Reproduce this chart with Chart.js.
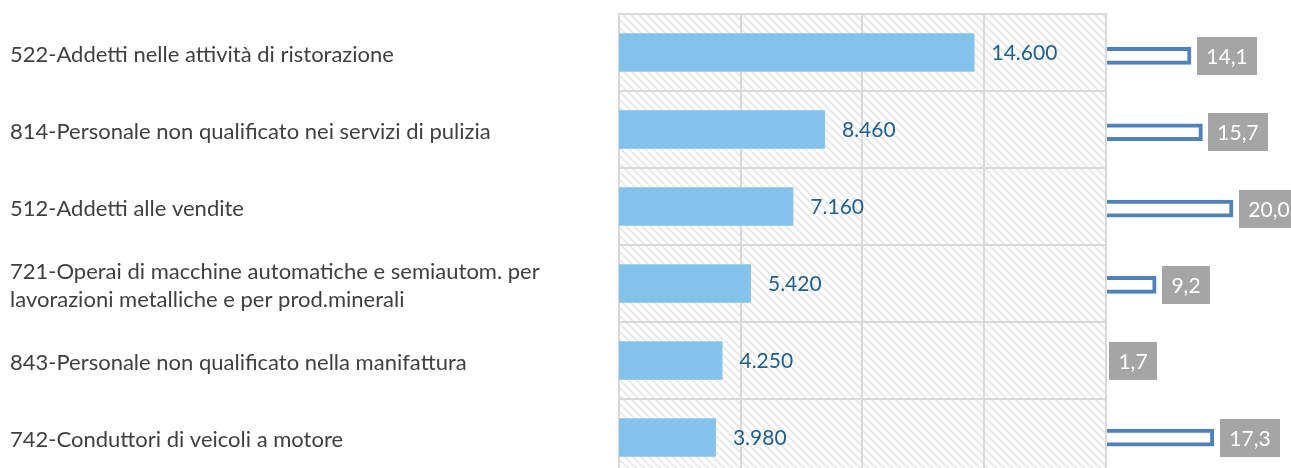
<!DOCTYPE html>
<html>
<head>
<meta charset="utf-8">
<script src="https://cdn.jsdelivr.net/npm/chart.js@4/dist/chart.umd.min.js"></script>
<style>
    html, body { margin: 0; padding: 0; background: #fff; overflow: hidden; }
    #wrap { position: relative; width: 1291px; height: 490px; }
</style>
</head>
<body>
<div id="wrap"><canvas id="OccupationsStats"></canvas></div>
<script>
//
// Data
var categories = [
    '522-Addetti nelle attività di ristorazione',
    '814-Personale non qualificato nei servizi di pulizia',
    '512-Addetti alle vendite',
    ['721-Operai di macchine automatiche e semiautom. per', 'lavorazioni metalliche e per prod.minerali'],
    '843-Personale non qualificato nella manifattura',
    '742-Conduttori di veicoli a motore'
];
var hires = [14600, 8460, 7160, 5420, 4250, 3980];
var shares = [14.1, 15.7, 20.0, 9.2, 1.7, 17.3];
var hireTicks = [0, 5000, 10000, 15000, 20000];

var FONT = 'Lato, "Open Sans", sans-serif';

function fmtThousands(v) { return String(v).replace(/\B(?=(\d{3})+(?!\d))/g, '.'); }
function fmtShare(v) { return v.toFixed(1).replace('.', ','); }

//
// Hatch pattern for the plot panel
var hatch = null;
function getHatch(ctx) {
    if (hatch) return hatch;
    var c = document.createElement('canvas');
    c.width = 8; c.height = 8;
    var g = c.getContext('2d');
    g.fillStyle = '#ffffff';
    g.fillRect(0, 0, 8, 8);
    g.strokeStyle = '#e9e9e9';
    g.lineWidth = 2;
    g.beginPath();
    g.moveTo(-1, -1); g.lineTo(9, 9);
    g.moveTo(-3, 5); g.lineTo(3, 11);
    g.moveTo(5, -3); g.lineTo(11, 3);
    g.stroke();
    hatch = ctx.createPattern(c, 'repeat');
    return hatch;
}

var panelPlugin = {
    id: 'panel',
    beforeDatasetDraw: function(chart, args) {
        if (args.index !== 0) return;
        var ctx = chart.ctx, x = chart.scales.x, y = chart.scales.y, a = chart.chartArea;
        var left = x.getPixelForValue(hireTicks[0]);
        var right = x.getPixelForValue(hireTicks[hireTicks.length - 1]);
        ctx.save();
        ctx.fillStyle = getHatch(ctx);
        ctx.fillRect(left, a.top, right - left, a.bottom - a.top);
        ctx.strokeStyle = '#d9d9d9';
        ctx.lineWidth = 2;
        ctx.beginPath();
        hireTicks.forEach(function(t) {
            var px = Math.round(x.getPixelForValue(t));
            ctx.moveTo(px, a.top); ctx.lineTo(px, a.bottom);
        });
        for (var i = 0; i <= categories.length; i++) {
            var py;
            if (i === 0) py = a.top;
            else if (i === categories.length) py = a.bottom;
            else py = (y.getPixelForValue(i - 1) + y.getPixelForValue(i)) / 2;
            py = Math.round(py);
            ctx.moveTo(left - 1, py); ctx.lineTo(right + 1, py);
        }
        ctx.stroke();
        ctx.restore();
    },
    afterDatasetsDraw: function(chart) {
        var ctx = chart.ctx;
        ctx.save();
        ctx.font = '21px ' + FONT;
        ctx.textBaseline = 'middle';

        // values of the blue bars
        ctx.textAlign = 'left';
        ctx.fillStyle = '#1f5f8f';
        chart.getDatasetMeta(0).data.forEach(function(bar, i) {
            ctx.fillText(fmtThousands(hires[i]), bar.x + 17, bar.y + 1);
        });

        // grey boxes of the percentages
        chart.getDatasetMeta(1).data.forEach(function(bar, i) {
            var txt = fmtShare(shares[i]);
            var w = Math.round(ctx.measureText(txt).width + 19), h = 38;
            var bx = Math.round(bar.x + 6), by = Math.round(bar.y - h / 2);
            ctx.fillStyle = '#a5a5a5';
            ctx.fillRect(bx, by, w, h);
            ctx.fillStyle = '#ffffff';
            ctx.textAlign = 'center';
            ctx.fillText(txt, bx + w / 2, by + h / 2 + 1);
        });
        ctx.restore();
    }
};

//
// Draw Chart
var el = document.getElementById('OccupationsStats');
new Chart(el.getContext('2d'), {
    type: 'bar',
    data: {
        labels: categories,
        datasets: [{
            label: 'Assunzioni',
            data: hires,
            xAxisID: 'x',
            yAxisID: 'y',
            backgroundColor: '#83c3eb',
            barPercentage: 0.5,
            categoryPercentage: 1.0,
            grouped: false,
            order: 0
        }, {
            label: 'Quota %',
            data: shares.map(function(v, i) { return { x: v, y: i }; }),
            xAxisID: 'x2',
            yAxisID: 'y2',
            backgroundColor: '#ffffff',
            borderColor: '#4f81bd',
            borderWidth: 4,
            borderSkipped: false,
            barThickness: 17,
            grouped: false,
            order: 1
        }]
    },
    options: {
        indexAxis: 'y',
        responsive: true,
        maintainAspectRatio: false,
        animation: false,
        layout: { padding: { left: 10, top: 13, bottom: 13, right: 0 } },
        plugins: {
            legend: { display: false },
            tooltip: { enabled: false }
        },
        scales: {
            x: { type: 'linear', min: 0, max: 27600, display: false },
            x2: { type: 'linear', min: -66.24, max: 28.14, display: false },
            y: {
                type: 'category',
                position: 'left',
                grid: { display: false },
                border: { display: false },
                ticks: {
                    crossAlign: 'far',
                    autoSkip: false,
                    padding: 0,
                    labelOffset: 2,
                    color: '#404040',
                    font: { family: FONT, size: 22, lineHeight: '28px' }
                },
                afterFit: function(s) { s.width = 609; }
            },
            y2: { type: 'linear', min: -0.548, max: 5.502, reverse: true, offset: false, display: false }
        }
    },
    plugins: [panelPlugin]
});
</script>
</body>
</html>
